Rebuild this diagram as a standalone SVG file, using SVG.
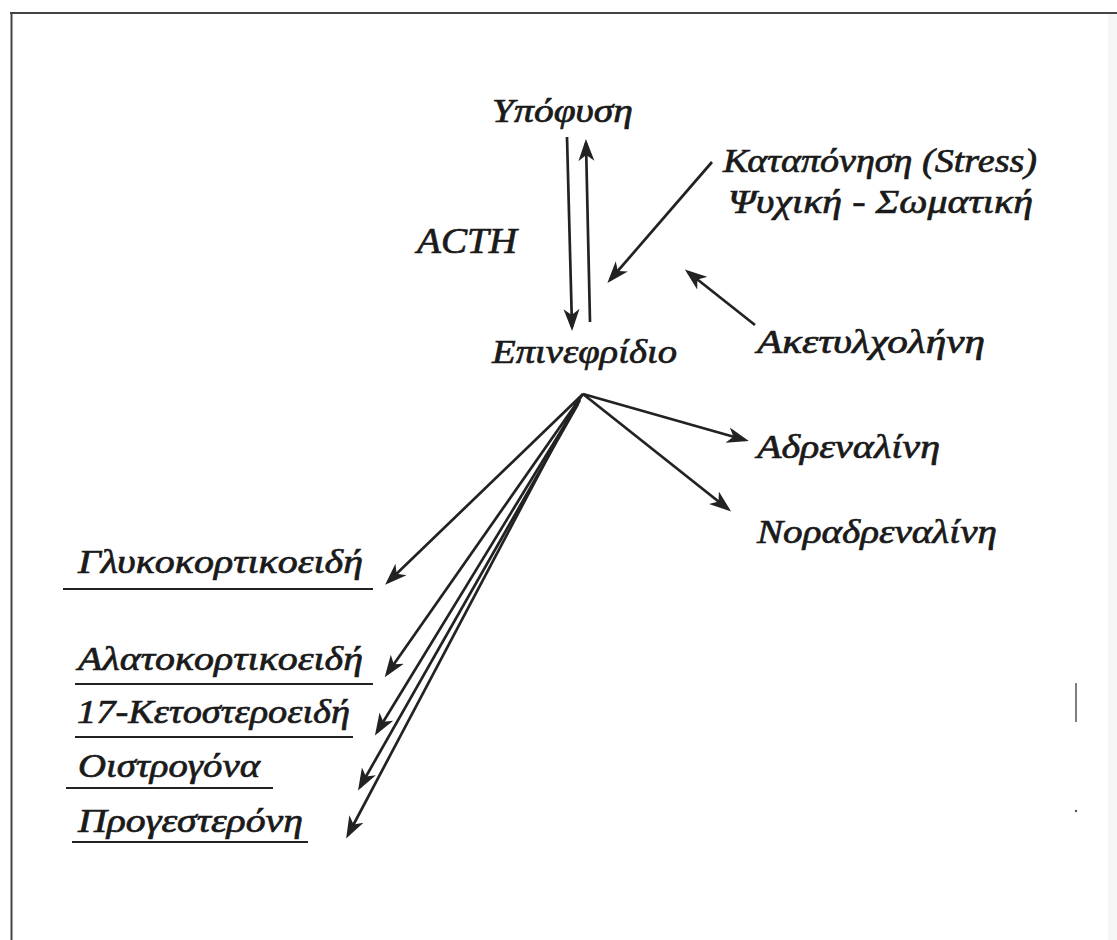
<svg xmlns="http://www.w3.org/2000/svg" width="1117" height="940" viewBox="0 0 1117 940">
<style>
.t{font-family:"Liberation Serif","Times New Roman",serif;font-style:italic;font-size:34px;fill:#1a1a1a;stroke:#1a1a1a;stroke-width:0.7px}
.a{fill:none;stroke:#222;stroke-width:2.7;stroke-linecap:butt;marker-end:url(#ah)}
.u{stroke:#222;stroke-width:2.2}
.frame{stroke:#444;stroke-width:2;fill:none}
</style>
<defs>
<marker id="ah" markerUnits="userSpaceOnUse" viewBox="0 -9 22 18" markerWidth="22" markerHeight="18" refX="18" refY="0" orient="auto">
<path d="M0,-8 L22,0 L0,8 L6,0 Z" fill="#222"/>
</marker>
</defs>
<rect width="1117" height="940" fill="#fff"/>
<rect x="1108" y="14" width="9" height="926" fill="#f5f5f5"/>
<g id="frame">
<line class="frame" x1="10" y1="13" x2="1117" y2="13" stroke="#777"/>
<line class="frame" x1="11.5" y1="12" x2="11.5" y2="940"/>
<line x1="1076" y1="683" x2="1076" y2="722" stroke="#555" stroke-width="1.5"/>
<circle cx="1076" cy="811" r="1.2" fill="#555"/>
</g>
<g id="connectors">
<line class="a" x1="567" y1="137" x2="572" y2="327"/>
<line class="a" x1="590" y1="322" x2="586" y2="143"/>
<line class="a" x1="712" y1="162" x2="610" y2="280"/>
<line class="a" x1="755" y1="325" x2="688" y2="272"/>
<line class="a" x1="583" y1="394" x2="745" y2="440"/>
<line class="a" x1="583" y1="394" x2="728" y2="509"/>
<line class="a" x1="583" y1="394" x2="388" y2="582"/>
<line class="a" x1="583" y1="394" x2="387" y2="674"/>
<line class="a" x1="580" y1="400" x2="377" y2="732"/>
<line class="a" x1="578" y1="404" x2="360" y2="787"/>
<line class="a" x1="576" y1="404" x2="348" y2="835"/>
</g>
<g id="n-ypofysi"><text class="t" x="492" y="122" textLength="141" lengthAdjust="spacingAndGlyphs">Υπόφυση</text></g>
<g id="n-acth"><text class="t" x="417" y="253" textLength="100" lengthAdjust="spacingAndGlyphs" style="font-size:36px">ACTH</text></g>
<g id="n-stress"><text class="t" x="723" y="172" textLength="314" lengthAdjust="spacingAndGlyphs">Καταπόνηση (Stress)</text>
<text class="t" x="728" y="213" textLength="305" lengthAdjust="spacingAndGlyphs">Ψυχική - Σωματική</text></g>
<g id="n-epinefridio"><text class="t" x="492" y="363" textLength="185" lengthAdjust="spacingAndGlyphs">Επινεφρίδιο</text></g>
<g id="n-aketylcholini"><text class="t" x="757" y="353" textLength="228" lengthAdjust="spacingAndGlyphs">Ακετυλχολήνη</text></g>
<g id="n-adrenalini"><text class="t" x="757" y="458" textLength="183" lengthAdjust="spacingAndGlyphs">Αδρεναλίνη</text></g>
<g id="n-noradrenalini"><text class="t" x="757" y="543" textLength="240" lengthAdjust="spacingAndGlyphs">Νοραδρεναλίνη</text></g>
<g id="n-glyko"><text class="t" x="78" y="573" textLength="285" lengthAdjust="spacingAndGlyphs">Γλυκοκορτικοειδή</text><line class="u" x1="63" y1="589" x2="373" y2="589"/></g>
<g id="n-alato"><text class="t" x="78" y="670" textLength="285" lengthAdjust="spacingAndGlyphs">Αλατοκορτικοειδή</text><line class="u" x1="75" y1="684" x2="373" y2="684"/></g>
<g id="n-keto"><text class="t" x="77" y="723" textLength="273" lengthAdjust="spacingAndGlyphs">17-Κετοστεροειδή</text><line class="u" x1="75" y1="737" x2="353" y2="737"/></g>
<g id="n-oistro"><text class="t" x="78" y="777" textLength="182" lengthAdjust="spacingAndGlyphs">Οιστρογόνα</text><line class="u" x1="66" y1="788" x2="273" y2="788"/></g>
<g id="n-proge"><text class="t" x="78" y="832" textLength="225" lengthAdjust="spacingAndGlyphs">Προγεστερόνη</text><line class="u" x1="72" y1="842" x2="308" y2="842"/></g>
</svg>
